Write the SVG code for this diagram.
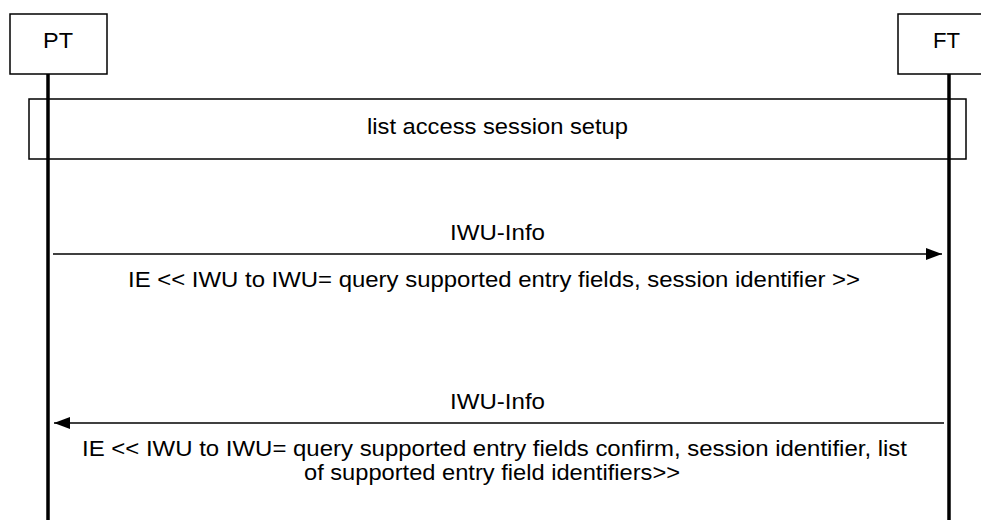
<svg xmlns="http://www.w3.org/2000/svg" width="981" height="520" viewBox="0 0 981 520">
<style>
.box{fill:#fff;stroke:#000;stroke-width:1.5}
.life{stroke:#000;stroke-width:3.5}
.msg{stroke:#000;stroke-width:1.5;fill:none}
text{font-family:"Liberation Sans",Arial,sans-serif;font-size:22px;fill:#000}
</style>
<defs>
<marker id="ah" markerWidth="16" markerHeight="12" refX="16" refY="6" orient="auto" markerUnits="userSpaceOnUse">
<path d="M0,0 L16,6 L0,12 Z" fill="#000"/>
</marker>
</defs>
<g id="session">
<rect class="box" x="29" y="99" width="937" height="60"/>
<text x="367" y="134" textLength="261" lengthAdjust="spacingAndGlyphs">list access session setup</text>
</g>
<g id="PT">
<rect class="box" x="10" y="14" width="97" height="60"/>
<text x="43" y="48" textLength="30" lengthAdjust="spacingAndGlyphs">PT</text>
<line class="life" x1="48" y1="74" x2="48" y2="520"/>
</g>
<g id="FT">
<rect class="box" x="898" y="14" width="95" height="60"/>
<text x="933" y="48" textLength="27" lengthAdjust="spacingAndGlyphs">FT</text>
<line class="life" x1="949" y1="74" x2="949" y2="520"/>
</g>
<g id="connectors">
<line class="msg" x1="53" y1="254" x2="942" y2="254" marker-end="url(#ah)"/>
<text x="450" y="240" textLength="95" lengthAdjust="spacingAndGlyphs">IWU-Info</text>
<text x="128" y="287" textLength="732" lengthAdjust="spacingAndGlyphs">IE &lt;&lt; IWU to IWU= query supported entry fields, session identifier &gt;&gt;</text>
<line class="msg" x1="944" y1="423" x2="54" y2="423" marker-end="url(#ah)"/>
<text x="450" y="409" textLength="95" lengthAdjust="spacingAndGlyphs">IWU-Info</text>
<text x="82" y="456" textLength="825" lengthAdjust="spacingAndGlyphs">IE &lt;&lt; IWU to IWU= query supported entry fields confirm, session identifier, list</text>
<text x="304" y="480" textLength="376" lengthAdjust="spacingAndGlyphs">of supported entry field identifiers&gt;&gt;</text>
</g>
</svg>
